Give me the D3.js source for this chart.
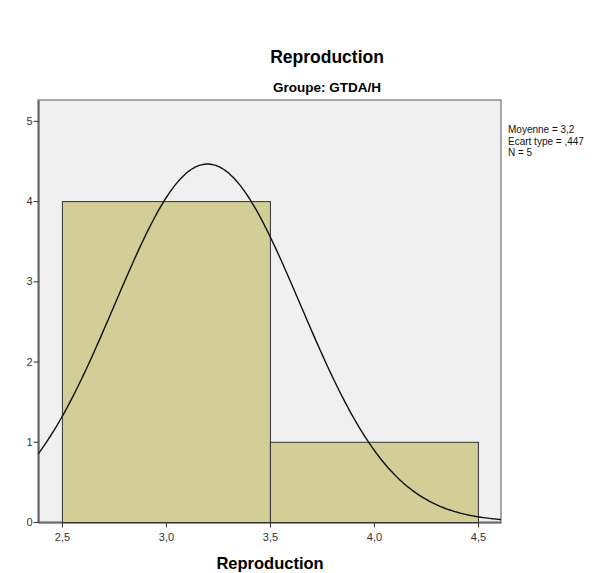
<!DOCTYPE html>
<html>
<head>
<meta charset="utf-8">
<script src="https://cdn.jsdelivr.net/npm/d3@7"></script>
<style>
  body { margin: 0; background: #fff; }
  svg { display: block; font-family: "Liberation Sans", Arial, sans-serif; }
</style>
</head>
<body>
<script>
// histogram data
const binStarts = [2.5, 3.5]
const binEnds = [3.5, 4.5]
const counts = [4, 1]
const xTicks = [2.5, 3.0, 3.5, 4.0, 4.5]
const yTicks = [0, 1, 2, 3, 4, 5]
const stats = ['Moyenne = 3,2', 'Ecart type = ,447', 'N = 5']
const mean = 3.2
const sd = 0.447
const n = 5

const width = 600, height = 573
const plot = { left: 38, right: 501, top: 100, bottom: 522 }

const svg = d3.select('body').append('svg')
    .attr('width', width)
    .attr('height', height)

const x = d3.scaleLinear()
    .domain([2.385, 4.611])
    .range([plot.left, plot.right])
const y = d3.scaleLinear()
    .domain([0, 5.26])
    .range([plot.bottom, plot.top])

const comma = d => d3.format('.1f')(d).replace('.', ',')

// plot background
svg.append('rect')
    .attr('x', plot.left)
    .attr('y', plot.top)
    .attr('width', plot.right - plot.left)
    .attr('height', plot.bottom - plot.top)
    .attr('fill', '#f0f0f0')
    .attr('stroke', '#555')
    .attr('stroke-width', 1)

const clip = svg.append('clipPath').attr('id', 'plotclip')
clip.append('rect')
    .attr('x', plot.left)
    .attr('y', plot.top)
    .attr('width', plot.right - plot.left)
    .attr('height', plot.bottom - plot.top)

// bars
svg.append('g')
    .selectAll('rect')
    .data(counts)
    .join('rect')
        .attr('x', (d, i) => x(binStarts[i]) + 0.5)
        .attr('y', d => y(d) + 0.5)
        .attr('width', (d, i) => x(binEnds[i]) - x(binStarts[i]))
        .attr('height', d => y(0) - y(d))
        .attr('fill', '#d3ce97')
        .attr('stroke', '#333')
        .attr('stroke-width', 1)

// normal curve
const binWidth = binEnds[0] - binStarts[0]
const normal = v => n * binWidth * Math.exp(-0.5 * ((v - mean) / sd) ** 2) / (sd * Math.sqrt(2 * Math.PI))
const curvePts = d3.range(x.domain()[0], x.domain()[1] + 0.005, 0.01)
svg.append('path')
    .attr('clip-path', 'url(#plotclip)')
    .datum(curvePts)
    .attr('fill', 'none')
    .attr('stroke', '#111')
    .attr('stroke-width', 1.4)
    .attr('d', d3.line().x(d => x(d)).y(d => y(normal(d))).curve(d3.curveBasis))

// axes
const xAxis = svg.append('g')
    .attr('transform', `translate(0,${plot.bottom + 0.5})`)
    .call(d3.axisBottom(x).tickValues(xTicks).tickFormat(comma).tickSize(5).tickSizeOuter(0))
xAxis.select('.domain').attr('stroke', '#333')
xAxis.selectAll('.tick line').attr('stroke', '#333')
xAxis.selectAll('.tick text')
    .attr('font-family', '"Liberation Sans", Arial, sans-serif')
    .attr('font-size', 11)
    .attr('fill', '#333')
    .attr('dy', '0.95em')

const yAxis = svg.append('g')
    .attr('transform', `translate(${plot.left + 0.5},0)`)
    .call(d3.axisLeft(y).tickValues(yTicks).tickFormat(d3.format('d')).tickSize(5).tickSizeOuter(0))
yAxis.select('.domain').attr('stroke', '#333')
yAxis.selectAll('.tick line').attr('stroke', '#333')
yAxis.selectAll('.tick text')
    .attr('font-family', '"Liberation Sans", Arial, sans-serif')
    .attr('font-size', 11)
    .attr('fill', '#333')
    .attr('x', -6)

// titles
svg.append('text')
    .attr('x', 327).attr('y', 63)
    .attr('text-anchor', 'middle')
    .attr('font-size', 17.5).attr('font-weight', 'bold')
    .text('Reproduction')
svg.append('text')
    .attr('x', 327).attr('y', 92)
    .attr('text-anchor', 'middle')
    .attr('font-size', 13.5).attr('font-weight', 'bold')
    .text('Groupe: GTDA/H')
svg.append('text')
    .attr('x', 270).attr('y', 569)
    .attr('text-anchor', 'middle')
    .attr('font-size', 16.5).attr('font-weight', 'bold')
    .text('Reproduction')

// y title, mostly cut off at the left edge as in the original
const yclip = svg.append('clipPath').attr('id', 'yclip')
yclip.append('rect').attr('x', 8).attr('y', 260).attr('width', 3).attr('height', 100)
svg.append('g')
    .attr('clip-path', 'url(#yclip)')
  .append('text')
    .attr('transform', 'translate(-1,312) rotate(-90)')
    .attr('text-anchor', 'middle')
    .attr('font-size', 15).attr('font-weight', 'bold')
    .attr('fill', '#333')
    .text('Fréquence')

// stats legend
svg.append('g')
    .attr('font-size', 10)
    .attr('fill', '#111')
    .selectAll('text')
    .data(stats)
    .join('text')
        .attr('x', 508)
        .attr('y', (d, i) => 133 + i * 11.5)
        .text(d => d)
</script>
</body>
</html>
